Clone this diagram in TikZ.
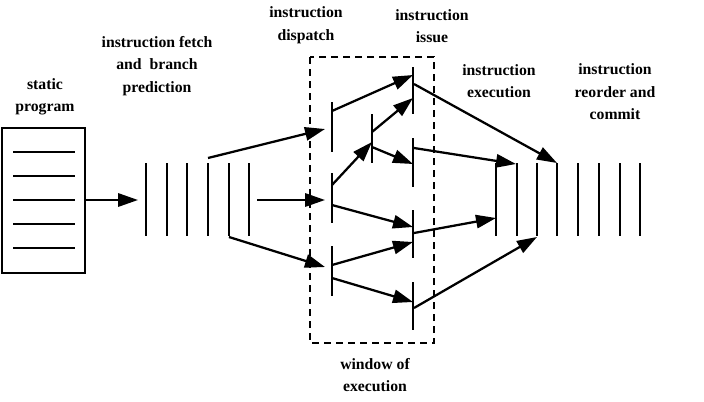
\documentclass[tikz,border=0pt]{standalone}
\usepackage{fontspec}
\setmainfont{Liberation Serif}
\usetikzlibrary{arrows.meta}

\tikzset{
  stagetext/.style={font=\fontsize{11.8}{16.9}\selectfont\bfseries, align=center},
  bar/.style={line width=1.8pt},
  flow/.style={line width=1.7pt, -{Triangle[length=15pt,width=10pt]}},
}

\begin{document}
\begin{tikzpicture}[x=0.75pt, y=-0.75pt]
\useasboundingbox (0,0) rectangle (704,401);

% === Labels ===
\node[stagetext] (tprog)   at (45,97)   {static\\program};
\node[stagetext] (tfetch)  at (157,66)  {instruction fetch\\and\ \ branch\\prediction};
\node[stagetext] (tdisp)   at (306,25)  {instruction\\dispatch};
\node[stagetext] (tissue)  at (432,26)  {instruction\\issue};
\node[stagetext] (texec)   at (499,81)  {instruction\\execution};
\node[stagetext] (tcommit) at (615,92)  {instruction\\reorder and\\commit};
\node[stagetext] (twin)    at (375,375) {window of\\execution};

% === Static program ===
\node[draw, line width=1.7pt, minimum width=62pt, minimum height=108.5pt] (prog) at (43.5,200.5) {};
\foreach \y in {152,176,200,224,248}
    \draw[bar] (13,\y) -- (75,\y);

% === Fetch buffer ===
\foreach \x in {146,167,187,208,229,249}
    \draw[bar] (\x,163) -- (\x,236);

% === Window of execution ===
\draw[line width=1.6pt, dash pattern=on 5.5pt off 3.5pt] (310,57) rectangle (434,343);

% dispatch bars
\draw[bar] (332,102) -- (332,152);
\draw[bar] (332,173) -- (332,223);
\draw[bar] (332,246) -- (332,296);
\draw[bar] (372,114) -- (372,163);
% issue bars
\draw[bar] (413,67)  -- (413,114);
\draw[bar] (413,138) -- (413,187);
\draw[bar] (413,210) -- (413,258);
\draw[bar] (413,282) -- (413,330);

% === Execution and commit ===
\foreach \x in {496,517,537,557,578,599,620,640}
    \draw[bar] (\x,163) -- (\x,236);

% === Connector ends ===
\coordinate (fin)  at (138,200);
\coordinate (fa)   at (208,158);
\coordinate (fb)   at (257,200);
\coordinate (fc)   at (229,237);
\coordinate (da)   at (325,129);
\coordinate (db)   at (325,200);
\coordinate (dc)   at (325,267);
\coordinate (d1o)  at (332,111);
\coordinate (d2o)  at (332,185);
\coordinate (d2p)  at (332,205);
\coordinate (d3o)  at (332,265);
\coordinate (d3p)  at (332,278);
\coordinate (min)  at (372,142);
\coordinate (mo)   at (372,132);
\coordinate (mp)   at (372,147);
\coordinate (i1a)  at (413,75);
\coordinate (i1b)  at (413,98);
\coordinate (i2a)  at (413,164);
\coordinate (i3a)  at (413,227);
\coordinate (i3b)  at (413,242);
\coordinate (i4a)  at (413,302);
\coordinate (i1o)  at (414,84);
\coordinate (i2o)  at (414,148);
\coordinate (i3o)  at (414,233);
\coordinate (i4o)  at (414,308);
\coordinate (ea)   at (557,163);
\coordinate (eb)   at (516,164);
\coordinate (ec)   at (496,218);
\coordinate (ed)   at (537,237);

% === Arrows ===
\draw[flow] (prog.east |- fin) -- (fin);
\draw[flow] (fa) -- (da);
\draw[flow] (fb) -- (db);
\draw[flow] (fc) -- (dc);

\draw[flow] (d1o) -- (i1a);
\draw[flow] (d2o) -- (min);
\draw[flow] (mo) -- (i1b);
\draw[flow] (mp) -- (i2a);
\draw[flow] (d2p) -- (i3a);
\draw[flow] (d3o) -- (i3b);
\draw[flow] (d3p) -- (i4a);

\draw[flow] (i1o) -- (ea);
\draw[flow] (i2o) -- (eb);
\draw[flow] (i3o) -- (ec);
\draw[flow] (i4o) -- (ed);

\end{tikzpicture}
\end{document}
